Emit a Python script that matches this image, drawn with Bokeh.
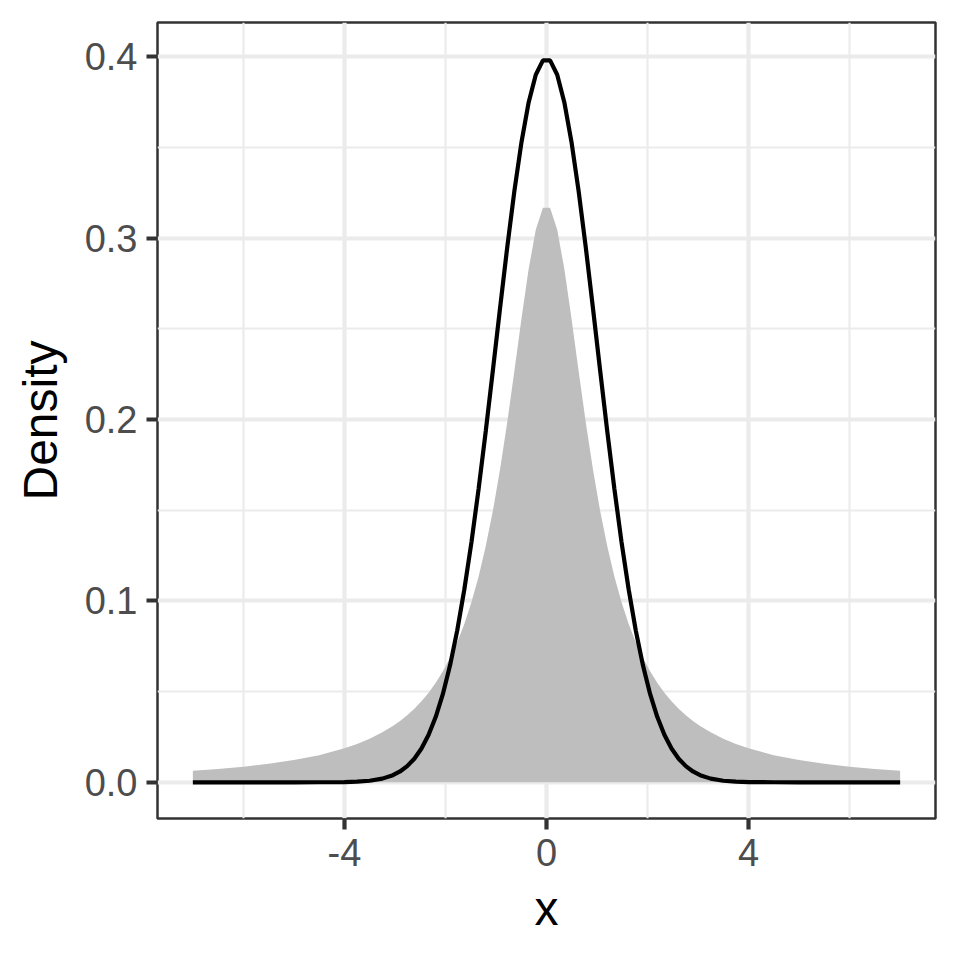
from bokeh.plotting import figure
from bokeh.models import Range1d, FixedTicker
from bokeh.embed import file_html
from bokeh.resources import INLINE

# ---- data ----
x_vals = [-7.0, -6.5, -6.0, -5.5, -5.0, -4.5, -4.0, -3.75, -3.5, -3.25,
          -3.0404, -2.8990, -2.7576, -2.6162, -2.4747, -2.3333, -2.1919, -2.0505,
          -1.9091, -1.7677, -1.6263, -1.4848, -1.3434, -1.2020, -1.0606, -0.9192,
          -0.7778, -0.6364, -0.4949, -0.3535, -0.2121, -0.0707,
          0.0707, 0.2121, 0.3535, 0.4949, 0.6364, 0.7778, 0.9192, 1.0606,
          1.2020, 1.3434, 1.4848, 1.6263, 1.7677, 1.9091, 2.0505, 2.1919,
          2.3333, 2.4747, 2.6162, 2.7576, 2.8990, 3.0404,
          3.25, 3.5, 3.75, 4.0, 4.5, 5.0, 5.5, 6.0, 6.5, 7.0]

normal_density = [0.0, 0.0, 0.0, 0.0, 0.0, 0.00002, 0.00013, 0.00035, 0.00087, 0.00203,
                  0.00392, 0.00597, 0.00891, 0.01302, 0.01867, 0.02622, 0.03611, 0.04874,
                  0.06449, 0.08363, 0.10632, 0.13249, 0.16182, 0.19372, 0.22732, 0.26148,
                  0.29481, 0.32581, 0.35296, 0.37478, 0.39007, 0.39794,
                  0.39794, 0.39007, 0.37478, 0.35296, 0.32581, 0.29481, 0.26148, 0.22732,
                  0.19372, 0.16182, 0.13249, 0.10632, 0.08363, 0.06449, 0.04874, 0.03611,
                  0.02622, 0.01867, 0.01302, 0.00891, 0.00597, 0.00392,
                  0.00203, 0.00087, 0.00035, 0.00013, 0.00002, 0.0, 0.0, 0.0, 0.0, 0.0]

cauchy_density = [0.00637, 0.00736, 0.00860, 0.01019, 0.01224, 0.01498, 0.01872, 0.02113, 0.02402, 0.02753,
                  0.03107, 0.03385, 0.03699, 0.04058, 0.04468, 0.04939, 0.05484, 0.06116,
                  0.06853, 0.07717, 0.08733, 0.09933, 0.11349, 0.13020, 0.14980, 0.17253,
                  0.19833, 0.22656, 0.25568, 0.28295, 0.30460, 0.31673,
                  0.31673, 0.30460, 0.28295, 0.25568, 0.22656, 0.19833, 0.17253, 0.14980,
                  0.13020, 0.11349, 0.09933, 0.08733, 0.07717, 0.06853, 0.06116, 0.05484,
                  0.04939, 0.04468, 0.04058, 0.03699, 0.03385, 0.03107,
                  0.02753, 0.02402, 0.02113, 0.01872, 0.01498, 0.01224, 0.01019, 0.00860, 0.00736, 0.00637]

x_ticks = [-4, 0, 4]
x_tick_labels = ["-4", "0", "4"]
x_minor = [-6, -2, 2, 6]
y_ticks = [0.0, 0.1, 0.2, 0.3, 0.4]
y_tick_labels = ["0.0", "0.1", "0.2", "0.3", "0.4"]
y_minor = [0.05, 0.15, 0.25, 0.35]

FONT = "Liberation Sans"

p = figure(width=944, height=944, output_backend="svg", toolbar_location=None,
           x_range=Range1d(-7.7, 7.7), y_range=Range1d(-0.01995, 0.41884),
           min_border_left=157, min_border_right=9, min_border_top=22,
           min_border_bottom=126)
p.background_fill_color = "white"
p.border_fill_color = "white"
p.outline_line_color = "#333333"
p.outline_line_width = 2.5

p.varea(x=x_vals, y1=[0] * len(x_vals), y2=cauchy_density, fill_color="#BEBEBE", fill_alpha=1.0)
p.line(x=x_vals, y=normal_density, line_color="black", line_width=4.2)

p.xaxis.ticker = FixedTicker(ticks=x_ticks, minor_ticks=x_minor)
p.yaxis.ticker = FixedTicker(ticks=y_ticks, minor_ticks=y_minor)
p.xaxis.major_label_overrides = {t: l for t, l in zip(x_ticks, x_tick_labels)}
p.yaxis.major_label_overrides = {t: l for t, l in zip(y_ticks, y_tick_labels)}

for g in (p.xgrid, p.ygrid):
    g.grid_line_color = "#EBEBEB"
    g.grid_line_width = 4.2
    g.minor_grid_line_color = "#EBEBEB"
    g.minor_grid_line_width = 2.1

for ax in (p.xaxis, p.yaxis):
    ax.axis_line_color = None
    ax.major_tick_line_color = "#333333"
    ax.major_tick_line_width = 4.2
    ax.major_tick_out = 11
    ax.major_tick_in = 0
    ax.minor_tick_line_color = None
    ax.major_label_text_font = FONT
    ax.major_label_text_font_size = "38px"
    ax.major_label_text_color = "#4D4D4D"
    ax.major_label_standoff = 9
    ax.axis_label_text_font = FONT
    ax.axis_label_text_font_size = "48px"
    ax.axis_label_text_font_style = "normal"
    ax.axis_label_text_color = "black"

p.xaxis.axis_label = "x"
p.yaxis.axis_label = "Density"
p.xaxis.axis_label_standoff = 13
p.yaxis.axis_label_standoff = 15

open("out.html", "w").write(file_html(p, INLINE))
